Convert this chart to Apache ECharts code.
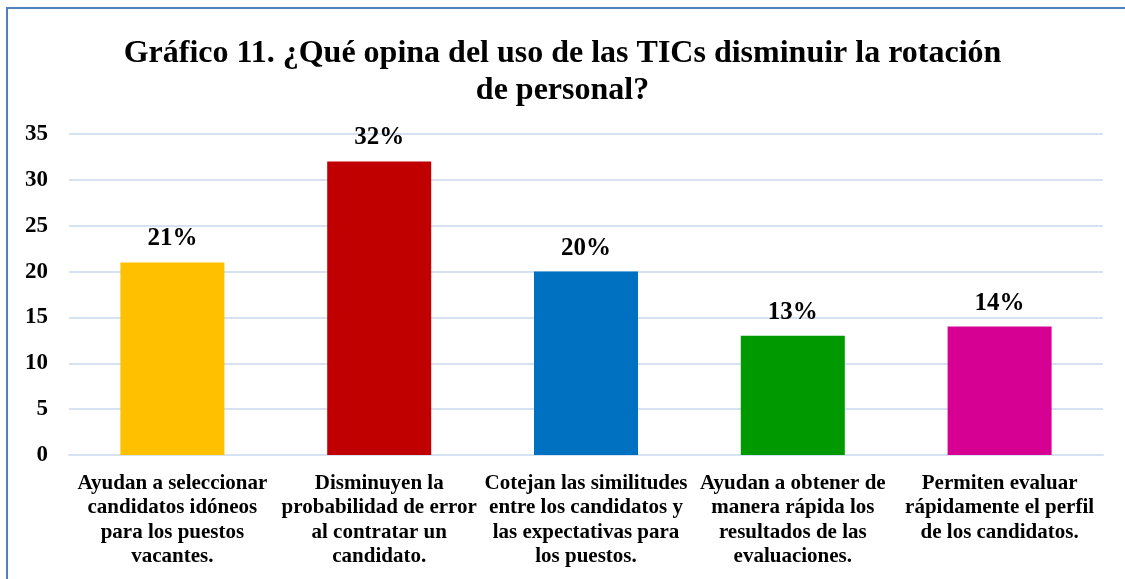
<!DOCTYPE html>
<html>
<head>
<meta charset="utf-8">
<script src="https://cdn.jsdelivr.net/npm/echarts@6/dist/echarts.min.js"></script>
<style>
  html, body { margin: 0; padding: 0; background: #fff; }
  #frame {
    position: absolute; left: 6px; top: 7px; width: 1130px; height: 590px;
    border-left: 2px solid #4F81BD; border-top: 2px solid #4F81BD;
    box-sizing: border-box;
  }
  #chart { position: absolute; left: 0; top: 0; width: 1125px; height: 579px; }
</style>
</head>
<body>
<div id="frame"></div>
<div id="chart"></div>
<script>
// datos del gráfico
const categories = [
  'Ayudan a seleccionar\ncandidatos idóneos\npara los puestos\nvacantes.',
  'Disminuyen la\nprobabilidad de error\nal contratar un\ncandidato.',
  'Cotejan las similitudes\nentre los candidatos y\nlas expectativas para\nlos puestos.',
  'Ayudan a obtener de\nmanera rápida los\nresultados de las\nevaluaciones.',
  'Permiten evaluar\nrápidamente el perfil\nde los candidatos.'
]
const values = [21, 32, 20, 13, 14]
const barColors = ['#FFC000', '#C00000', '#0070C0', '#009900', '#D60093']

const serif = '"Liberation Serif", "Times New Roman", serif'

const chart = echarts.init(document.getElementById('chart'))

const option = {
  animation: false,
  title: {
    text: 'Gráfico 11. ¿Qué opina del uso de las TICs disminuir la rotación\nde personal?',
    left: 'center',
    top: 30,
    padding: [5, 5, 5, 15],
    textStyle: {
      fontFamily: serif,
      fontSize: 32,
      fontWeight: 'bold',
      color: '#000',
      lineHeight: 37
    }
  },
  grid: {
    left: 69,
    right: 22,
    top: 134,
    bottom: 124,
    outerBoundsMode: 'none'
  },
  xAxis: {
    type: 'category',
    data: categories,
    axisLine: { show: true, lineStyle: { color: '#D6E2F2', width: 2 } },
    axisTick: { show: false },
    axisLabel: {
      interval: 0,
      margin: 16,
      fontFamily: serif,
      fontSize: 21,
      fontWeight: 'bold',
      color: '#000',
      lineHeight: 24.5
    }
  },
  yAxis: {
    type: 'value',
    min: 0,
    max: 35,
    interval: 5,
    axisLine: { show: false },
    axisTick: { show: false },
    splitLine: { lineStyle: { color: '#D6E2F2', width: 2 } },
    axisLabel: {
      margin: 21,
      fontFamily: serif,
      fontSize: 23,
      fontWeight: 'bold',
      color: '#000'
    }
  },
  series: [{
    type: 'bar',
    barWidth: 104,
    data: values.map((v, i) => ({ value: v, itemStyle: { color: barColors[i] } })),
    label: {
      show: true,
      position: 'top',
      distance: 11,
      formatter: '{c}%',
      fontFamily: serif,
      fontSize: 25,
      fontWeight: 'bold',
      color: '#000'
    }
  }]
}

chart.setOption(option)
</script>
</body>
</html>
